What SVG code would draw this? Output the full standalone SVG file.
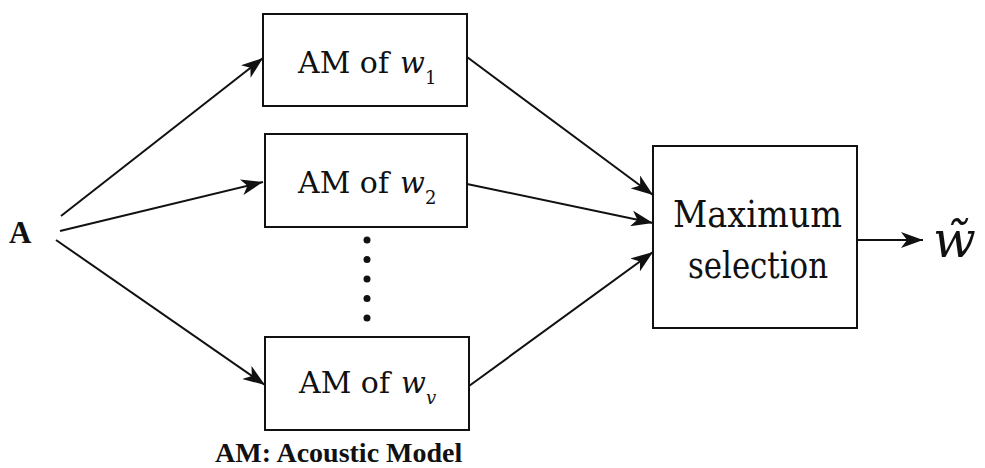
<svg xmlns="http://www.w3.org/2000/svg" width="985" height="468" viewBox="0 0 985 468">
  <style>
    text { fill: #111111; }
    .rm { font-family: 'DejaVu Serif', 'Liberation Serif', serif; }
    .bd { font-family: 'Liberation Serif', 'DejaVu Serif', serif; font-weight: bold; }
    .it { font-family: 'DejaVu Serif', 'Liberation Serif', serif; font-style: italic; }
    .box { fill: #ffffff; stroke: #111111; stroke-width: 2; }
    .edge { stroke: #111111; stroke-width: 2; fill: none; marker-end: url(#head); }
  </style>
  <defs>
    <marker id="head" viewBox="0 0 22 16" refX="22" refY="8" markerWidth="22" markerHeight="16" markerUnits="userSpaceOnUse" orient="auto">
      <path d="M0,0 L22,8 L0,16 L6,8 Z" fill="#111111"/>
    </marker>
  </defs>
  <rect width="985" height="468" fill="#ffffff"/>

  <g id="input">
    <text class="bd" x="9" y="243" font-size="31">A</text>
  </g>

  <g id="am1">
    <rect class="box" x="263" y="14" width="204" height="92"/>
    <text class="rm" x="298" y="73" font-size="29" textLength="91" lengthAdjust="spacingAndGlyphs">AM of</text>
    <text class="it" x="400" y="73" font-size="29">w</text>
    <text class="rm" x="425" y="84" font-size="18">1</text>
  </g>

  <g id="am2">
    <rect class="box" x="265" y="134" width="202" height="93"/>
    <text class="rm" x="298" y="193" font-size="29" textLength="91" lengthAdjust="spacingAndGlyphs">AM of</text>
    <text class="it" x="400" y="193" font-size="29">w</text>
    <text class="rm" x="425" y="204" font-size="18">2</text>
  </g>

  <g id="ellipsis">
    <circle cx="367" cy="240" r="3.5" fill="#111111"/>
    <circle cx="367" cy="259.5" r="3.5" fill="#111111"/>
    <circle cx="367" cy="279" r="3.5" fill="#111111"/>
    <circle cx="367" cy="298.5" r="3.5" fill="#111111"/>
    <circle cx="367" cy="318" r="3.5" fill="#111111"/>
  </g>

  <g id="amv">
    <rect class="box" x="265" y="337" width="204" height="93"/>
    <text class="rm" x="299" y="393" font-size="29" textLength="91" lengthAdjust="spacingAndGlyphs">AM of</text>
    <text class="it" x="401" y="393" font-size="29">w</text>
    <text class="it" x="426" y="404" font-size="18">v</text>
  </g>

  <g id="maxsel">
    <rect class="box" x="653" y="146" width="204" height="182"/>
    <text class="rm" x="673" y="227" font-size="37" textLength="169" lengthAdjust="spacingAndGlyphs">Maximum</text>
    <text class="rm" x="688" y="278" font-size="37" textLength="140" lengthAdjust="spacingAndGlyphs">selection</text>
  </g>

  <g id="output">
    <text class="it" x="933" y="257" font-size="50">w̃</text>
  </g>

  <g id="legend">
    <text class="bd" x="215" y="462" font-size="28">AM: Acoustic Model</text>
  </g>

  <g id="connectors">
    <line class="edge" x1="61" y1="216" x2="263" y2="58"/>
    <line class="edge" x1="60" y1="231" x2="263" y2="182"/>
    <line class="edge" x1="56" y1="240" x2="265" y2="385"/>
    <line class="edge" x1="467" y1="57" x2="653" y2="195"/>
    <line class="edge" x1="467" y1="184" x2="653" y2="223"/>
    <line class="edge" x1="469" y1="386" x2="653" y2="252"/>
    <line class="edge" x1="857" y1="240" x2="923" y2="240"/>
  </g>
</svg>
